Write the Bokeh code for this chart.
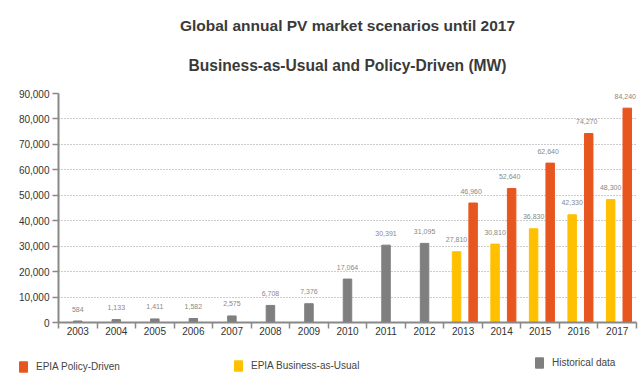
from bokeh.plotting import figure
from bokeh.layouts import column
from bokeh.models import (ColumnDataSource, FixedTicker, NumeralTickFormatter,
                          Legend, LegendItem, LabelSet, Title)
from bokeh.core.properties import value
from bokeh.transform import dodge
from bokeh.embed import file_html
from bokeh.resources import INLINE

# ---- data ----
year_ticks = [2003, 2004, 2005, 2006, 2007, 2008, 2009, 2010, 2011, 2012,
              2013, 2014, 2015, 2016, 2017]
hist_years = [2003, 2004, 2005, 2006, 2007, 2008, 2009, 2010, 2011, 2012]
hist_values = [584, 1133, 1411, 1582, 2575, 6708, 7376, 17064, 30391, 31095]
scen_years = [2013, 2014, 2015, 2016, 2017]
bau_values = [27810, 30810, 36830, 42330, 48300]
policy_values = [46960, 52640, 62640, 74270, 84240]
y_ticks = [0, 10000, 20000, 30000, 40000, 50000, 60000, 70000, 80000, 90000]
title_line1 = "Global annual PV market scenarios until 2017"
title_line2 = "Business-as-Usual and Policy-Driven (MW)"
legend_labels = ["EPIA Policy-Driven", "EPIA Business-as-Usual", "Historical data"]

RED = "#E8561F"
YELLOW = "#FFC000"
GRAY = "#7F7F7F"
FONT = "Liberation Sans"

def fmt(v):
    return "{:,}".format(v)

hist_src = ColumnDataSource(dict(x=hist_years, top=hist_values,
                                 label=[fmt(v) for v in hist_values]))
bau_src = ColumnDataSource(dict(x=scen_years, top=bau_values,
                                label=[fmt(v) for v in bau_values]))
pol_src = ColumnDataSource(dict(x=scen_years, top=policy_values,
                                label=[fmt(v) for v in policy_values]))

p = figure(frame_width=578, frame_height=229,
           x_range=(2002.5, 2017.5), y_range=(0, 90000),
           output_backend="svg", toolbar_location=None,
           min_border_left=58, min_border_right=7,
           min_border_top=93, min_border_bottom=26)

p.title.text = title_line1
p.title.align = "center"
p.title.text_font = FONT
p.title.text_font_size = "15.5px"
p.title.text_font_style = "bold"
p.title.text_color = "#3a3a3a"
p.title.standoff = 2

p.add_layout(Title(text=title_line2, align="center",
                   text_font=FONT, text_font_size="15.6px", text_font_style="bold",
                   text_color="#3a3a3a", standoff=40), "above")

p.outline_line_color = None
p.background_fill_color = "white"
p.border_fill_color = "white"

# bars
BW = 0.22
p.vbar(x="x", top="top", width=BW, source=hist_src, color=GRAY)
p.vbar(x=dodge("x", -0.17, range=p.x_range), top="top", width=BW,
       source=bau_src, color=YELLOW)
p.vbar(x=dodge("x", 0.26, range=p.x_range), top="top", width=BW,
       source=pol_src, color=RED)

# value labels
for src, off, xo in [(hist_src, 0.0, 0), (bau_src, -0.17, 0), (pol_src, 0.26, -2)]:
    p.add_layout(LabelSet(x=dodge("x", off, range=p.x_range), y="top", text="label",
                          source=src, y_offset=12, x_offset=xo, text_align="center",
                          text_baseline="middle", text_font=value(FONT),
                          text_font_size=value("7px"), text_color="#888888"))

# axes
p.xaxis.ticker = FixedTicker(ticks=year_ticks,
                             minor_ticks=[t - 0.5 for t in year_ticks] + [2017.5])
p.xaxis.formatter = NumeralTickFormatter(format="0")
p.xaxis.major_tick_line_color = None
p.xaxis.major_tick_out = 0
p.xaxis.major_tick_in = 0
p.xaxis.minor_tick_out = 6
p.xaxis.minor_tick_in = 0
p.xaxis.minor_tick_line_color = "#888888"
p.xaxis.minor_tick_line_width = 1.5
p.xaxis.major_label_standoff = -2
p.xaxis.axis_line_color = "#888888"
p.xaxis.axis_line_width = 2

p.yaxis.ticker = FixedTicker(ticks=y_ticks)
p.yaxis.formatter = NumeralTickFormatter(format="0,0")
p.yaxis.minor_tick_line_color = None
p.yaxis.major_tick_out = 6
p.yaxis.major_tick_in = 0
p.yaxis.major_tick_line_color = "#888888"
p.yaxis.major_tick_line_width = 1.5
p.yaxis.major_label_standoff = 3
p.yaxis.axis_line_color = "#888888"
p.yaxis.axis_line_width = 2

for ax in (p.xaxis, p.yaxis):
    ax.major_label_text_font = FONT
    ax.major_label_text_font_size = "10px"
    ax.major_label_text_color = "#333333"

p.xgrid.visible = False
p.ygrid.grid_line_color = "#999999"
p.ygrid.grid_line_dash = "1 2"
p.ygrid.grid_line_width = 1

# ---- legend strip (separate figure under the chart) ----
lp = figure(width=643, height=40, x_range=(0, 1), y_range=(0, 1),
            output_backend="svg", toolbar_location=None,
            x_axis_type=None, y_axis_type=None, min_border=0)
lp.outline_line_color = None
lp.xgrid.visible = False
lp.ygrid.visible = False
for fig in (p, lp):
    if hasattr(fig, "frame_align"):
        fig.frame_align = False

for label, src, color, loc in [(legend_labels[0], pol_src, RED, (18, 15)),
                               (legend_labels[1], bau_src, YELLOW, (233, 16)),
                               (legend_labels[2], hist_src, GRAY, (534, 19))]:
    # same data, outside this strip's range: only the legend swatch shows
    r = lp.vbar(x="x", top="top", width=0.1, source=src, color=color)
    lg = Legend(items=[LegendItem(label=label, renderers=[r])], location=loc,
                orientation="horizontal", glyph_width=10, glyph_height=13,
                label_height=13, label_standoff=8, padding=0, margin=0, spacing=0,
                border_line_color=None, background_fill_alpha=0,
                label_text_font=FONT, label_text_font_size="10px",
                label_text_color="#444444")
    lp.add_layout(lg)

open("out.html", "w").write(file_html(column(p, lp), INLINE))
